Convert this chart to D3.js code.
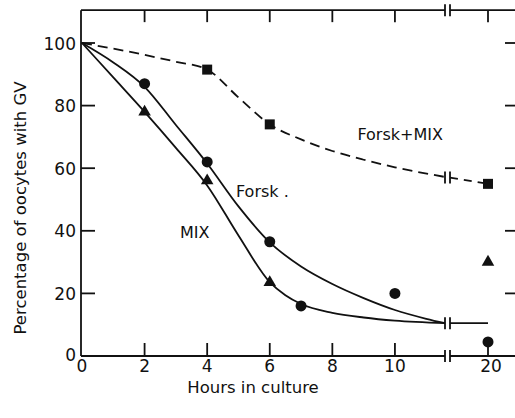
<!DOCTYPE html>
<html><head><meta charset="utf-8">
<script src="https://cdn.jsdelivr.net/npm/d3@7"></script>
<style>body{margin:0;background:#fff}svg{display:block}text{font-family:"DejaVu Sans",sans-serif;fill:#111}</style>
</head><body>
<script>
// ---- data ----
const xTicks = [0, 2, 4, 6, 8, 10, 20];
const yTicks = [0, 20, 40, 60, 80, 100];
const xBreak = 11.6;
// measured points
const forskMixPts = [[4, 91.5], [6, 74], [20, 55]];
const forskPts = [[2, 87], [4, 62], [6, 36.5], [7, 16], [10, 20], [20, 4.5]];
const mixPts = [[2, 78], [4, 56], [6, 23.5], [20, 30]];
// fitted curves (up to the break), then tail to 20
const forskMixFit = [[0, 100], [1, 98.2], [2, 96.2], [3, 94], [4, 91.5], [5, 82.6], [6, 74], [7, 69.2], [8, 65.5], [9, 62.7], [10, 60.3], [11.6, 57.2]];
const forskMixTail = [[11.6, 57], [20, 55]];
const forskFit = [[0, 100], [1, 93.8], [2, 86], [3, 73.8], [4, 61.5], [5, 47.8], [6, 36.3], [7, 28.6], [8, 23], [9, 18.5], [10, 14.7], [11, 11.9], [11.6, 10.5]];
const mixFit = [[0, 100], [1, 89], [2, 78], [3, 66.5], [4, 54.5], [5, 38.5], [6, 23.6], [6.5, 19.4], [7, 16.6], [8, 13.8], [9, 12.3], [10, 11.3], [11.6, 10.5]];
const plateauTail = [[11.6, 10.5], [20, 10.5]];
const labels = [["Forsk+MIX", 8.8, 69], ["Forsk .", 4.92, 50.8], ["MIX", 3.13, 37.7]];

const W = 515, H = 418;
const svg = d3.select("body").append("svg").attr("width", W).attr("height", H);
const x = d3.scaleLinear().domain([0, xBreak, 20]).range([82, 445, 488]);
const y = d3.scaleLinear().domain([0, 100]).range([356, 43]);
const topY = y(110.5), rightX = 515, leftX = 81, bottomY = y(0);
const gap = 5;

const ink = "#111";
const g = svg.append("g").attr("stroke", ink).attr("stroke-width", 1.8).attr("fill", "none");

// frame with breaks
const xb = x(xBreak);
g.append("line").attr("x1", leftX).attr("x2", xb).attr("y1", bottomY).attr("y2", bottomY);
g.append("line").attr("x1", xb + gap).attr("x2", rightX).attr("y1", bottomY).attr("y2", bottomY);
g.append("line").attr("x1", leftX).attr("x2", xb).attr("y1", topY).attr("y2", topY);
g.append("line").attr("x1", xb + gap).attr("x2", rightX).attr("y1", topY).attr("y2", topY);
g.append("line").attr("x1", leftX).attr("x2", leftX).attr("y1", topY).attr("y2", bottomY);

function breakMarks(yy) {
  [xb, xb + gap].forEach(xx => g.append("line").attr("x1", xx).attr("x2", xx).attr("y1", yy - 6).attr("y2", yy + 6));
}
breakMarks(bottomY); breakMarks(topY);

// ticks
xTicks.filter(d => d > 0).forEach(d => {
  g.append("line").attr("x1", x(d)).attr("x2", x(d)).attr("y1", bottomY).attr("y2", bottomY - 13);
  g.append("line").attr("x1", x(d)).attr("x2", x(d)).attr("y1", topY).attr("y2", topY + 12);
});
yTicks.filter(d => d > 0).forEach(d => {
  g.append("line").attr("x1", leftX).attr("x2", leftX + 14).attr("y1", y(d)).attr("y2", y(d));
  g.append("line").attr("x1", rightX - 10).attr("x2", rightX).attr("y1", y(d)).attr("y2", y(d));
});

// tick labels
svg.append("g").selectAll("text").data(xTicks).join("text")
  .attr("x", d => x(d) + (d === 20 ? 3 : 0)).attr("y", 372).attr("text-anchor", "middle")
  .attr("font-size", 17).text(d => d);
svg.append("g").selectAll("text").data(yTicks).join("text")
  .attr("x", 76).attr("y", d => y(d) + (d === 0 ? 5 : 6.5)).attr("text-anchor", "end")
  .attr("font-size", 17).text(d => d);

// axis titles
svg.append("text").attr("x", 253).attr("y", 393).attr("text-anchor", "middle").attr("font-size", 16.5).text("Hours in culture");
svg.append("text").attr("transform", "translate(26,208) rotate(-90)").attr("text-anchor", "middle")
  .attr("font-size", 16.5).text("Percentage of oocytes with GV");

// curves
const line = d3.line().x(d => x(d[0])).y(d => y(d[1])).curve(d3.curveMonotoneX);
const straight = d3.line().x(d => x(d[0])).y(d => y(d[1]));
g.append("path").attr("d", line(forskMixFit)).attr("stroke-dasharray", "10,6");
g.append("path").attr("d", straight(forskMixTail.map((d, i) => i === 0 ? [x.invert(xb + gap), d[1]] : d))).attr("stroke-dasharray", "8,6");
g.append("path").attr("d", line(forskFit));
g.append("path").attr("d", line(mixFit));
g.append("path").attr("d", straight(plateauTail.map((d, i) => i === 0 ? [x.invert(xb + gap), d[1]] : d)));
// break marks on lines
breakMarks(y(57)); breakMarks(y(10.5));

// markers
const m = svg.append("g").attr("fill", ink);
m.selectAll("rect").data(forskMixPts).join("rect")
  .attr("x", d => x(d[0]) - 5).attr("y", d => y(d[1]) - 5).attr("width", 10).attr("height", 10);
m.selectAll("circle").data(forskPts).join("circle")
  .attr("cx", d => x(d[0])).attr("cy", d => y(d[1])).attr("r", 5.5);
m.selectAll("path").data(mixPts).join("path")
  .attr("d", d3.symbol().type(d3.symbolTriangle).size(68))
  .attr("transform", d => `translate(${x(d[0])},${y(d[1])})`);

// series labels
svg.append("g").selectAll("text").data(labels).join("text")
  .attr("x", d => x(d[1])).attr("y", d => y(d[2]))
  .attr("font-size", 16).text(d => d[0]);
</script>
</body></html>
